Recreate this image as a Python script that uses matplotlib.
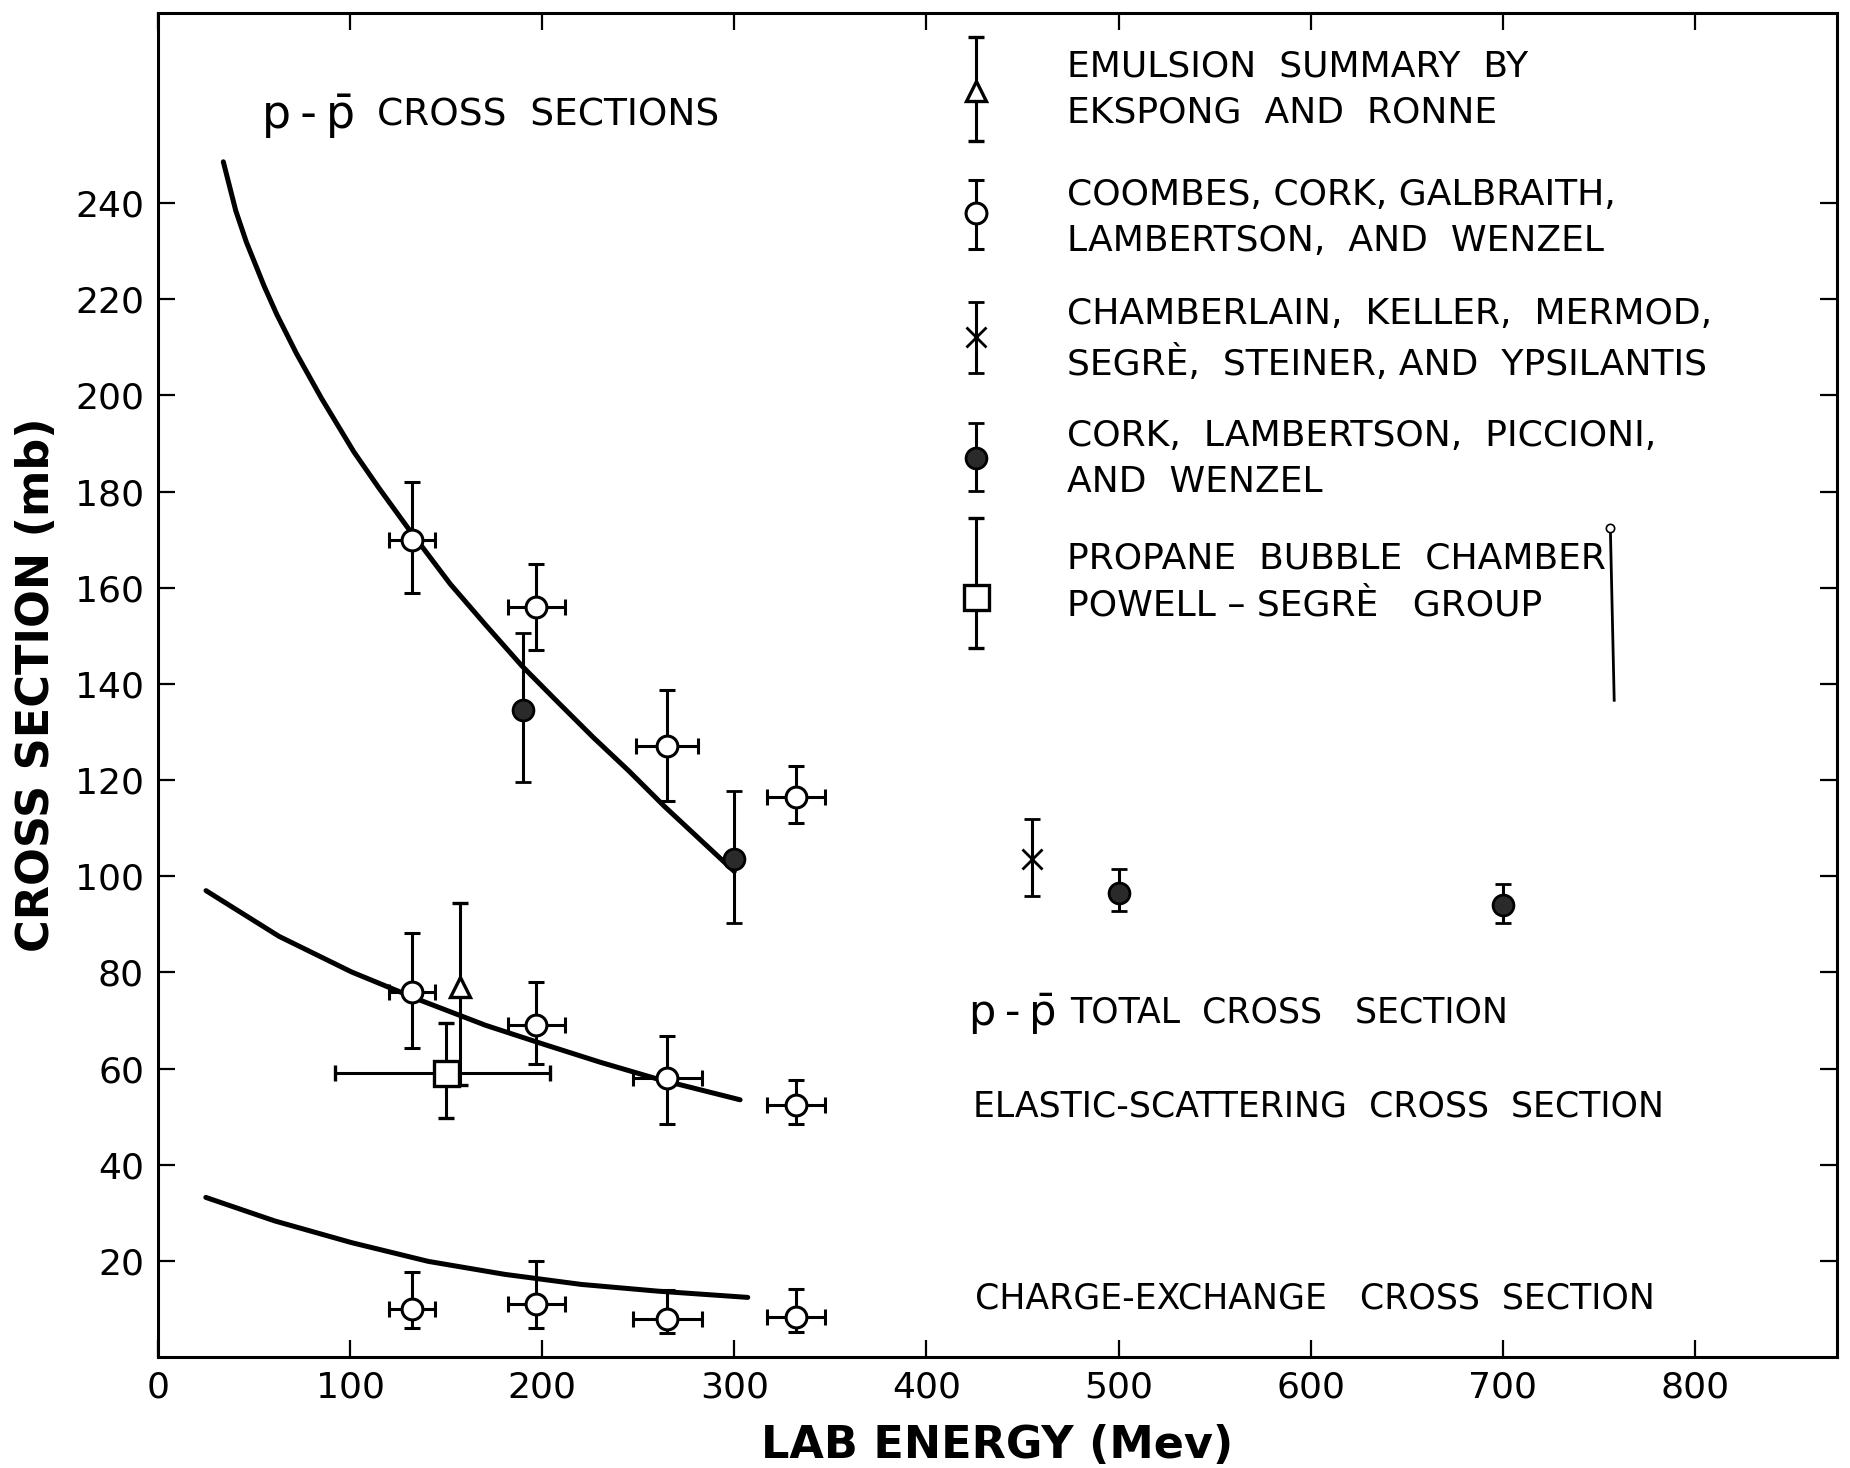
import numpy as np
import matplotlib
matplotlib.use("Agg")
import matplotlib.pyplot as plt

# ---------------------------------------------------
# Daten
# ---------------------------------------------------

# Coombes, Cork, Galbraith, Lambertson, Wenzel (offene Kreise)
coombes_E = [132, 197, 265, 332]
coombes_xerr = [12, 15, 16, 15]
tot_coombes = [170, 156, 127, 116.5]
tot_coombes_lo = [159, 147, 115.7, 111]
tot_coombes_hi = [182, 165, 138.7, 123]

el_coombes = [76, 69, 58, 52.5]
el_coombes_lo = [64.3, 60.9, 48.4, 48.4]
el_coombes_hi = [88.2, 78.1, 66.7, 57.7]
el_xerr = [12, 15, 18, 15]

cx_coombes = [10, 11, 8, 8.3]
cx_coombes_lo = [6, 6, 5, 5.1]
cx_coombes_hi = [17.7, 20, 14, 14.1]
cx_xerr = [12, 15, 18, 15]

# Cork, Lambertson, Piccioni, Wenzel (gefuellte Kreise)
cork_E = [190, 300, 500, 700]
cork_tot = [134.5, 103.5, 96.5, 94]
cork_lo = [119.7, 90.3, 92.7, 90.3]
cork_hi = [150.5, 117.8, 101.5, 98.3]

# Chamberlain et al. (Kreuz)
cham_E = [455]
cham_tot = [103.5]
cham_lo = [95.9]
cham_hi = [112]

# Emulsion, Ekspong und Ronne (Dreieck)
emul_E = [157]
emul_el = [77]
emul_lo = [56.5]
emul_hi = [94.5]

# Propan-Blasenkammer (Quadrat)
prop_E = [150]
prop_el = [59]
prop_lo = [49.7]
prop_hi = [69.5]
prop_Elo = [92]
prop_Ehi = [204]

# Kurven
tot_curve_E = [34, 40.5, 46, 55.4, 61.9, 72.1, 85.1, 101.9, 114.9, 129.8,
               152.1, 170.7, 189.3, 207.9, 226.5, 245.1, 263.7, 300]
tot_curve_S = [248.6, 238.4, 231.9, 222.6, 216.8, 208.7, 199.4, 188.3, 180.8,
               172.6, 160.8, 152.2, 143.8, 136.3, 128.9, 121.9, 114.5, 101]
el_curve_E = [25, 63, 100.7, 136.6, 170.5, 200.4, 230.3, 260.2, 303]
el_curve_S = [97, 87.5, 80.1, 74.2, 69.0, 65.1, 61.3, 57.8, 53.5]
cx_curve_E = [24.9, 60.8, 100.7, 140.6, 180.4, 220.3, 260.2, 307]
cx_curve_S = [33.2, 28.3, 23.8, 19.9, 17.2, 15.1, 13.7, 12.4]

legend_labels = [
    "EMULSION  SUMMARY  BY\nEKSPONG  AND  RONNE",
    "COOMBES, CORK, GALBRAITH,\nLAMBERTSON,  AND  WENZEL",
    "CHAMBERLAIN,  KELLER,  MERMOD,\nSEGR\u00c8,  STEINER, AND  YPSILANTIS",
    "CORK,  LAMBERTSON,  PICCIONI,\nAND  WENZEL",
    "PROPANE  BUBBLE  CHAMBER\nPOWELL \u2013 SEGR\u00c8   GROUP",
]

x_ticks = [0, 100, 200, 300, 400, 500, 600, 700, 800]
y_ticks = [20, 40, 60, 80, 100, 120, 140, 160, 180, 200, 220, 240]

# ---------------------------------------------------
# Diagramm
# ---------------------------------------------------

plt.rcParams['font.family'] = ['DejaVu Sans']

fig = plt.figure(figsize=(18.5, 14.68), dpi=100)
ax = fig.add_axes([0.0854, 0.0756, 0.9076, 0.9154])

ax.set_xlim(0, 874)
ax.set_ylim(0, 279.5)

eb = dict(capsize=6, elinewidth=2.2, capthick=2.2, ecolor='black',
          linestyle='none', zorder=3)
open_c = dict(marker='o', ms=15, mfc='white', mec='black', mew=2.2)
fill_c = dict(marker='o', ms=15, mfc='#2a2a2a', mec='black', mew=2.0)

def asym(v, lo, hi):
    v = np.array(v)
    return [v - np.array(lo), np.array(hi) - v]

# Kurven
for cx, cy in [(tot_curve_E, tot_curve_S), (el_curve_E, el_curve_S),
               (cx_curve_E, cx_curve_S)]:
    ax.plot(cx, cy, color='black', lw=3.6, solid_capstyle='round',
            solid_joinstyle='round', zorder=2)

# Messpunkte
ax.errorbar(coombes_E, tot_coombes, xerr=coombes_xerr,
            yerr=asym(tot_coombes, tot_coombes_lo, tot_coombes_hi), **eb, **open_c)
ax.errorbar(coombes_E, el_coombes, xerr=el_xerr,
            yerr=asym(el_coombes, el_coombes_lo, el_coombes_hi), **eb, **open_c)
ax.errorbar(coombes_E, cx_coombes, xerr=cx_xerr,
            yerr=asym(cx_coombes, cx_coombes_lo, cx_coombes_hi), **eb, **open_c)
ax.errorbar(cork_E, cork_tot, yerr=asym(cork_tot, cork_lo, cork_hi), **eb, **fill_c)
ax.errorbar(cham_E, cham_tot, yerr=asym(cham_tot, cham_lo, cham_hi), **eb,
            marker='x', ms=14, mec='black', mew=2.0)
ax.errorbar(emul_E, emul_el, yerr=asym(emul_el, emul_lo, emul_hi), **eb,
            marker='^', ms=15, mfc='white', mec='black', mew=2.4)
ax.errorbar(prop_E, prop_el, yerr=asym(prop_el, prop_lo, prop_hi),
            xerr=asym(prop_E, prop_Elo, prop_Ehi), **eb,
            marker='s', ms=18, mfc='white', mec='black', mew=2.4)

# Legende (von Hand)
leg_x = 426
leg_rows = [
    (263.4, 253, 274.5, dict(marker='^', ms=15, mfc='white', mec='black', mew=2.4)),
    (237.9, 230.5, 244.8, open_c),
    (212.1, 204.7, 219.5, dict(marker='x', ms=14, mec='black', mew=2.0)),
    (187.0, 180.1, 194.2, fill_c),
    (158.0, 147.5, 174.5, dict(marker='s', ms=18, mfc='white', mec='black', mew=2.4)),
]
text_y = [263.7, 236.9, 211.6, 186.7, 161.2]
for (yc, ylo, yhi, mk), ty, lab in zip(leg_rows, text_y, legend_labels):
    ax.errorbar([leg_x], [yc], yerr=[[yc - ylo], [yhi - yc]], **eb, **mk)
    ax.text(473, ty, lab, fontsize=26, va='center', ha='left',
            linespacing=1.45)

# Strich neben "CHAMBER"
ax.plot([756, 758], [172.4, 136.6], color='black', lw=2.0)
ax.plot([756], [172.4], marker='o', ms=6, mfc='white', mec='black', mew=1.2)

# Beschriftungen im Diagramm
pp = "p\u2009-\u2009p\u0304"
ax.text(54, 258.3, pp, fontsize=33, va='center', ha='left')
ax.text(114, 258.3, "CROSS  SECTIONS", fontsize=27, va='center', ha='left')
ax.text(422, 71.6, pp, fontsize=31, va='center', ha='left')
ax.text(475, 71.6, "TOTAL  CROSS   SECTION", fontsize=25, va='center', ha='left')
ax.text(424, 52.2, "ELASTIC-SCATTERING  CROSS  SECTION", fontsize=25,
        va='center', ha='left')
ax.text(425.5, 12.2, "CHARGE-EXCHANGE   CROSS  SECTION", fontsize=25,
        va='center', ha='left')

# Achsen
ax.set_xticks(x_ticks)
ax.set_yticks(y_ticks)
ax.tick_params(direction='in', length=12, width=1.6, labelsize=26,
               top=True, right=True, pad=10)
for s in ax.spines.values():
    s.set_linewidth(2.2)

ax.set_xlabel("LAB ENERGY (Mev)", fontsize=32, fontweight='bold', labelpad=14)
ax.set_ylabel("CROSS SECTION (mb)", fontsize=32, fontweight='bold', labelpad=12)

fig.savefig("out.png", dpi=100)
